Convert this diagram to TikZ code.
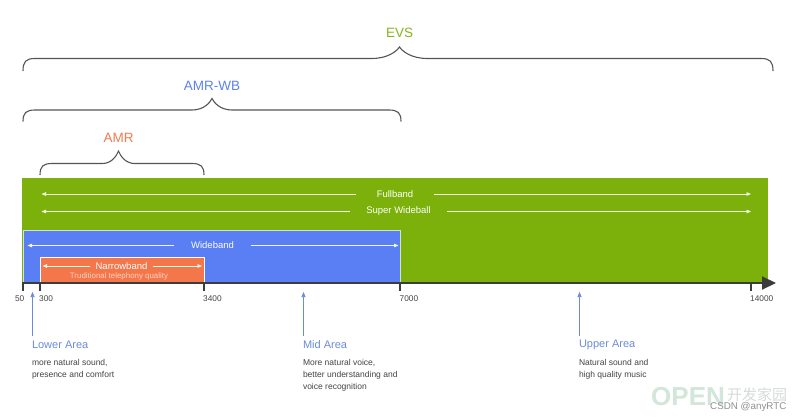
\documentclass[tikz,border=0pt]{standalone}
\usepackage{fontspec}
\setmainfont{Liberation Sans}
\newfontfamily\cjkfont{Noto Sans CJK SC}
\usetikzlibrary{arrows.meta}
\definecolor{evsgreen}{HTML}{7CB10B}
\definecolor{wbblue}{HTML}{5A7EF3}
\definecolor{wbedge}{HTML}{D3E4CC}
\definecolor{nborange}{HTML}{F4764B}
\definecolor{lblgreen}{HTML}{84B51B}
\definecolor{lblblue}{HTML}{5D83E8}
\definecolor{lblorange}{HTML}{F07B52}
\definecolor{areablue}{HTML}{6C8CD9}
\definecolor{bodygray}{HTML}{444444}
\definecolor{axisgray}{HTML}{3C3C3C}
\definecolor{bracegray}{HTML}{555555}
\definecolor{tradpink}{HTML}{FFD2C0}
\definecolor{bandwhite}{HTML}{F2F7E6}
\definecolor{wmmint}{HTML}{D2E6D9}
\definecolor{wmgray}{HTML}{D6DCD8}
\definecolor{wmtext}{HTML}{909090}
% #1 x1, #2 x2, #3 xp, #4 yend, #5 yline, #6 ypeak, #7 half width of peak
\newcommand{\cbrace}[7]{%
\draw[bracestyle] (#1,#4) .. controls (#1,#5+3) and (#1+3,#5) .. (#1+12,#5)
  -- (#3-#7,#5) .. controls (#3-0.4*#7,#5) and (#3-0.1*#7,#6+4) .. (#3,#6)
  .. controls (#3+0.1*#7,#6+4) and (#3+0.4*#7,#5) .. (#3+#7,#5)
  -- (#2-12,#5) .. controls (#2-3,#5) and (#2,#5+3) .. (#2,#4);}
\tikzset{
  bracestyle/.style={draw=bracegray,line width=1.1pt},
  codec/.style={font=\fontsize{13.5}{16}\selectfont,inner sep=0pt},
  bandlabel/.style={text=white,font=\fontsize{9.5}{11}\selectfont,inner ysep=0pt},
  barr/.style={draw=bandwhite,line width=0.8pt,-{Triangle[length=4.5pt,width=3.6pt]}},
  axisline/.style={draw=axisgray,line width=2pt},
  ticklabel/.style={font=\fontsize{8.3}{10}\selectfont,text=bodygray,inner sep=0pt},
  arealabel/.style={font=\fontsize{11}{13}\selectfont,text=areablue,inner sep=0pt,anchor=west},
  areatext/.style={font=\fontsize{8.5}{12}\selectfont,text=bodygray,inner sep=0pt,anchor=north west,align=left},
  areaarrow/.style={draw=areablue,line width=0.7pt,-{Triangle[length=5pt,width=4pt]}}
}
\begin{document}
\begin{tikzpicture}[x=1pt,y=-1pt]
\useasboundingbox (0,0) rectangle (799,417);
\fill[white] (0,0) rectangle (799,417);

% codec labels and braces
\node[codec,text=lblgreen] (evs) at (399.5,33) {EVS};
\node[codec,text=lblblue] (amrwb) at (212,85.5) {AMR-WB};
\node[codec,text=lblorange] (amr) at (118.5,137.5) {AMR};
\cbrace{23}{773}{399.5}{71}{58.5}{47}{28}
\cbrace{23}{401}{212}{121.5}{110}{98.5}{20}
\cbrace{40}{204}{118.5}{175}{163.5}{151}{16}

% band areas
\fill[evsgreen] (22,178) rectangle (768,283);
\draw[fill=wbblue,draw=wbedge,line width=1pt] (23.5,230.5) rectangle (400,283);
\draw[fill=nborange,draw=white,line width=1pt] (40,257.5) rectangle (204,283);

% band arrows
\coordinate (fbL) at (41.5,194);
\coordinate (fbR) at (751,194);
\node[bandlabel,inner xsep=21pt] (fb) at (395,194) {Fullband};
\draw[barr] (fb) -- (fbL);
\draw[barr] (fb) -- (fbR);
\coordinate (swL) at (41.5,211.5);
\coordinate (swR) at (751,211.5);
\node[bandlabel,inner xsep=16.5pt] (sw) at (398.5,211.5) {Super Wideball};
\draw[barr] (sw) -- (swL);
\draw[barr] (sw) -- (swR);
\coordinate (wbL) at (27.5,245.5);
\coordinate (wbR) at (398.5,245.5);
\node[bandlabel,inner xsep=17pt] (wb) at (212.5,245.5) {Wideband};
\draw[barr] (wb) -- (wbL);
\draw[barr] (wb) -- (wbR);
\coordinate (nbL) at (42.5,266);
\coordinate (nbR) at (202,266);
\node[bandlabel,inner xsep=5pt] (nb) at (121.5,266) {Narrowband};
\draw[barr] (nb) -- (nbL);
\draw[barr] (nb) -- (nbR);
\node[text=tradpink,font=\fontsize{7.9}{9}\selectfont,inner sep=0pt] (trad) at (119,276.5) {Truditional telephony quality};

% axis
\coordinate (ax0) at (22,283);
\coordinate (axend) at (776,283);
\draw[axisline,-{Triangle[length=14pt,width=13pt]}] (ax0) -- (axend);
\coordinate (t50) at (23,283);
\coordinate (t300) at (40,283);
\coordinate (t3400) at (204,283);
\coordinate (t7000) at (400,283);
\coordinate (t14000) at (751,283);
\foreach \t in {t50,t300,t3400,t7000,t14000}{\draw[axisline] (\t) -- ++(0,8);}
\node[ticklabel,anchor=east] (l50) at (24.5,299) {50};
\node[ticklabel,anchor=west] (l300) at (39,299) {300};
\node[ticklabel,anchor=west] (l3400) at (203,299) {3400};
\node[ticklabel,anchor=west] (l7000) at (399.5,299) {7000};
\node[ticklabel,anchor=west] (l14000) at (750,299) {14000};

% areas
\coordinate (laB) at (32.5,336);
\coordinate (laT) at (32.5,292);
\draw[areaarrow] (laB) -- (laT);
\node[arealabel] (la) at (31.8,345) {Lower Area};
\node[areatext] (lat) at (31.8,359.5) {more natural sound,\\presence and comfort};
\coordinate (maB) at (303.5,336);
\coordinate (maT) at (303.5,292);
\draw[areaarrow] (maB) -- (maT);
\node[arealabel] (ma) at (302.8,345) {Mid Area};
\node[areatext] (mat) at (302.8,359.5) {More natural voice,\\better understanding and\\voice recognition};
\coordinate (uaB) at (579.5,336);
\coordinate (uaT) at (579.5,292);
\draw[areaarrow] (uaB) -- (uaT);
\node[arealabel] (ua) at (578.8,345) {Upper Area};
\node[areatext] (uat) at (578.8,359.5) {Natural sound and\\high quality music};

% watermark
\node[anchor=west,inner sep=0pt,text=wmmint,font=\fontsize{26}{28}\selectfont\bfseries] (wm1) at (651,396.5) {OPEN};
\node[anchor=west,inner sep=0pt,text=wmgray,font=\cjkfont\fontsize{15}{16}\selectfont] (wm2) at (727,395) {开发家园};
\node[anchor=west,inner sep=0pt,text=wmtext,font=\fontsize{9.8}{11}\selectfont] (wm3) at (710,406.5) {CSDN @anyRTC};
\end{tikzpicture}
\end{document}
